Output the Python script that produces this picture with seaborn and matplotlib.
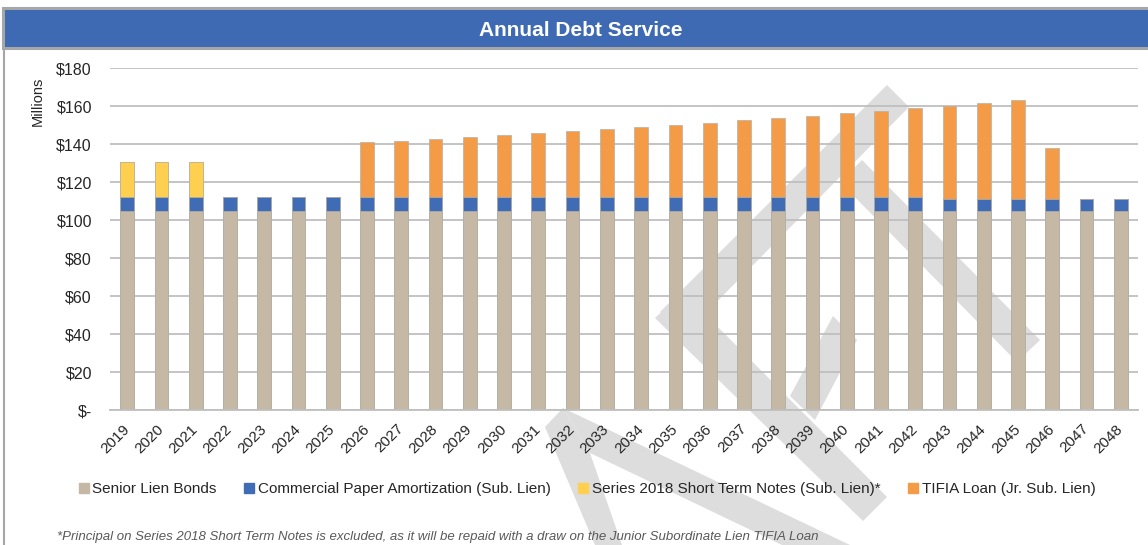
import matplotlib
matplotlib.use("Agg")
import matplotlib.pyplot as plt
import seaborn as sns
import numpy as np
from matplotlib.patches import Rectangle, Polygon
from matplotlib.lines import Line2D
from matplotlib.transforms import IdentityTransform

# ---------------- data ----------------
years = ["2019", "2020", "2021", "2022", "2023", "2024", "2025", "2026", "2027", "2028",
         "2029", "2030", "2031", "2032", "2033", "2034", "2035", "2036", "2037", "2038",
         "2039", "2040", "2041", "2042", "2043", "2044", "2045", "2046", "2047", "2048"]
senior_lien = [105.0, 105.0, 105.0, 105.0, 105.0, 105.0, 105.0, 105.0, 105.0, 105.0,
               105.0, 105.0, 105.0, 105.0, 105.0, 105.0, 105.0, 105.0, 105.0, 105.0,
               105.0, 105.0, 105.0, 105.0, 105.0, 105.0, 105.0, 105.0, 105.0, 104.6]
commercial_paper = [7.0, 7.0, 7.0, 7.0, 7.0, 7.0, 7.0, 7.0, 7.0, 7.0,
                    7.0, 7.0, 7.0, 7.0, 7.0, 7.0, 7.0, 7.0, 7.0, 7.0,
                    7.0, 7.0, 7.0, 7.0, 6.3, 6.3, 6.3, 6.3, 6.3, 6.7]
short_term_notes = [18.6, 18.6, 18.6, 0, 0, 0, 0, 0, 0, 0,
                    0, 0, 0, 0, 0, 0, 0, 0, 0, 0,
                    0, 0, 0, 0, 0, 0, 0, 0, 0, 0]
tifia_loan = [0, 0, 0, 0, 0, 0, 0, 29.1, 29.8, 30.7,
              31.7, 32.9, 33.8, 34.9, 35.7, 37.0, 38.0, 39.3, 40.7, 41.5,
              42.9, 44.3, 45.6, 47.0, 48.9, 50.3, 51.7, 26.6, 0, 0]
series_names = ["Senior Lien Bonds", "Commercial Paper Amortization (Sub. Lien)",
                "Series 2018 Short Term Notes (Sub. Lien)*", "TIFIA Loan (Jr. Sub. Lien)"]
ytick_values = [0, 20, 40, 60, 80, 100, 120, 140, 160, 180]
ytick_labels = ["$-", "$20", "$40", "$60", "$80", "$100", "$120", "$140", "$160", "$180"]
title = "Annual Debt Service"
footnote = ("*Principal on Series 2018 Short Term Notes is excluded, as it will be repaid "
            "with a draw on the Junior Subordinate Lien TIFIA Loan")

# ---------------- style ----------------
C_SENIOR = "#C5B8A4"
C_CP = "#3F6CB4"
C_NOTES = "#FFCF4F"
C_TIFIA = "#F39B47"
C_TITLEBAR = "#3E6AB3"
C_GRID = "#BFBFBF"
C_WM = "#DDDDDD"

sns.set_style("white")
plt.rcParams["font.family"] = ["Liberation Sans", "DejaVu Sans"]

W, H = 1148, 545
fig = plt.figure(figsize=(W / 100, H / 100), dpi=100)
ident = IdentityTransform()


def px(x, y):
    return (x, H - y)


# watermark (decorative, behind everything)
def band(points):
    fig.add_artist(Polygon([px(*p) for p in points], closed=True, transform=ident,
                           facecolor=C_WM, edgecolor="none", zorder=-5))


band([(660, 312), (887, 85), (909, 107), (683, 336)])
band([(840, 182), (862, 160), (1040, 340), (1017, 362)])
band([(655, 318), (683, 292), (887, 497), (863, 521)])
band([(790, 396), (833, 316), (857, 340), (815, 420)])
band([(545, 427), (563, 408), (590, 453), (622, 545), (595, 545)])
band([(563, 408), (590, 453), (782, 545), (850, 545)])

# title bar and frame
fig.add_artist(Rectangle(px(3, 48), W, 40, transform=ident, facecolor=C_TITLEBAR,
                         edgecolor="#A6A6A6", linewidth=2.2, zorder=1))
fig.add_artist(Line2D([4, 4], [H - 48, 0], transform=ident, color="#A6A6A6", lw=1.5))
fig.text(581 / W, 1 - 31 / H, title, ha="center", va="center", color="white",
         fontsize=15, fontweight="bold")

# axes
ax = fig.add_axes([110 / W, (H - 410) / H, 1028 / W, 342 / H])
ax.set_facecolor("none")

s = np.array(senior_lien)
c = np.array(commercial_paper)
n = np.array(short_term_notes)
t = np.array(tifia_loan)
layers = [
    (s + c + n + t, C_TIFIA),
    (s + c + n, C_NOTES),
    (s + c, C_CP),
    (s, C_SENIOR),
]
for vals, col in layers:
    sns.barplot(x=years, y=vals, color=col, saturation=1, width=0.4,
                edgecolor="#B5B0A8", linewidth=0.5, ax=ax)

ax.set_ylim(0, 180)
ax.set_xlim(-0.5, len(years) - 0.5)
ax.set_yticks(ytick_values)
ax.set_yticklabels(ytick_labels)
ax.set_xlabel("")
ax.set_ylabel("")
ax.yaxis.grid(True, color=C_GRID, linewidth=1.3)
ax.set_axisbelow(True)
for side in ["left", "right", "top"]:
    ax.spines[side].set_visible(False)
ax.spines["bottom"].set_color(C_GRID)
ax.spines["bottom"].set_linewidth(1.3)
ax.tick_params(axis="y", length=0, pad=13, labelsize=11.5, labelcolor="#262626")
ax.tick_params(axis="x", length=0, pad=12, labelsize=11, labelcolor="#262626")
for lab in ax.get_xticklabels():
    lab.set_rotation(45)
    lab.set_ha("right")
    lab.set_va("center")
    lab.set_rotation_mode("anchor")

fig.text(38 / W, 1 - 101 / H, "Millions", rotation=90, ha="center", va="center",
         fontsize=10.5, color="#262626")

# legend
handles = [Line2D([], [], marker="s", linestyle="", markersize=6.5, color=col)
           for col in [C_SENIOR, C_CP, C_NOTES, C_TIFIA]]
fig.legend(handles, series_names, loc="center", bbox_to_anchor=(586 / W, 1 - 489 / H),
           ncol=4, frameon=False, fontsize=11, handletextpad=0.1, columnspacing=1.7,
           handlelength=0.9, labelcolor="#262626")

# footnote
fig.text(57 / W, 1 - 537 / H, footnote, ha="left", va="center", style="italic",
         fontsize=9.5, color="#595959")

fig.savefig("out.png", dpi=100)
